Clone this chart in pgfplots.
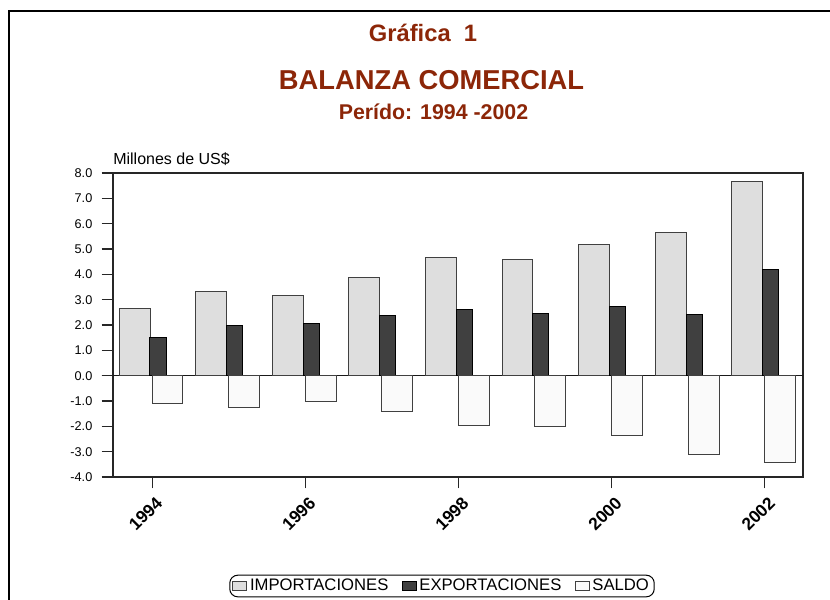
\documentclass[border=0pt]{standalone}
\usepackage{fontspec}
\setmainfont{Liberation Sans}
\usepackage{pgfplots}
\pgfplotsset{compat=1.18}
\definecolor{titlered}{RGB}{140,38,8}
\definecolor{impfill}{RGB}{222,222,222}
\definecolor{expfill}{RGB}{64,64,64}
\definecolor{salfill}{RGB}{250,250,250}
\begin{document}
\begin{tikzpicture}[x=0.75pt,y=0.75pt]
\useasboundingbox (0,0) rectangle (830,599);
\draw[line width=1.5pt] (9,-20) -- (9,587.5) -- (850,587.5);
\node[anchor=base, text=titlered, font=\fontsize{17.8}{20}\selectfont\bfseries] at (423,557) {Gráfica\ \ 1};
\node[anchor=base, text=titlered, font=\fontsize{20.5}{24}\selectfont\bfseries] at (431.5,509) {BALANZA COMERCIAL};
\node[anchor=base, text=titlered, font=\fontsize{16}{19}\selectfont\bfseries] at (433.5,479) {Perído: 1994 -2002};
\node[anchor=base west, inner sep=0pt, font=\fontsize{12}{14}\selectfont] at (113,434) {Millones de US\$};
\begin{axis}[
  at={(84.75pt,91.5pt)}, anchor=south west,
  scale only axis, width=517.5pt, height=228pt,
  xmin=1993.49, xmax=2002.5, ymin=-4, ymax=8,
  xtick={1994,1996,...,2002}, xticklabels={1994,1996,1998,2000,2002},
  ytick={-4,-3,...,8},
  tick align=outside, xtick pos=bottom, ytick pos=left,
  major tick length=8.5pt,
  axis line style={line width=0.8pt, black!85},
  tick style={line width=0.8pt, black!85},
  /pgf/number format/assume math mode=true,
  yticklabel style={/pgf/number format/.cd, fixed, fixed zerofill, precision=1, /tikz/.cd, font=\fontsize{9.5}{11}\selectfont, xshift=-3.5pt},
  xticklabel style={rotate=45, anchor=north east, font=\fontsize{13}{15}\selectfont\bfseries, yshift=-2pt, xshift=1pt},
  extra y ticks={0}, extra y tick labels={},
  extra y tick style={grid=major, major grid style={black!90, line width=0.8pt}},
  legend style={at={(0.4768,-0.3586)}, anchor=center, draw=black, rounded corners=6pt, line width=0.75pt,
    font=\fontsize{12.5}{14}\selectfont, legend columns=3,
    /tikz/every even column/.append style={column sep=8pt}, inner xsep=2pt, inner ysep=1pt},
  legend image code/.code={\draw[#1, sharp corners, line width=0.75pt] (0pt,-3.5pt) rectangle (10.5pt,3.5pt);},
]
\addplot[ybar, bar width=0.404, bar shift=-0.228, fill=impfill, draw=black!75, line width=0.75pt]
  coordinates {(1994,2.66) (1995,3.32) (1996,3.16) (1997,3.87) (1998,4.67) (1999,4.59) (2000,5.18) (2001,5.65) (2002,7.66)};
\addlegendentry{IMPORTACIONES}
\addplot[ybar, bar width=0.21, bar shift=0.078, fill=expfill, draw=black, line width=0.75pt]
  coordinates {(1994,1.51) (1995,1.97) (1996,2.07) (1997,2.37) (1998,2.61) (1999,2.47) (2000,2.73) (2001,2.41) (2002,4.18)};
\addlegendentry{EXPORTACIONES}
\addplot[ybar, bar width=0.404, bar shift=0.202, fill=salfill, draw=black!75, line width=0.75pt]
  coordinates {(1994,-1.08) (1995,-1.27) (1996,-1.02) (1997,-1.43) (1998,-1.97) (1999,-2.02) (2000,-2.37) (2001,-3.13) (2002,-3.44)};
\addlegendentry{SALDO}
\end{axis}
\end{tikzpicture}
\end{document}
